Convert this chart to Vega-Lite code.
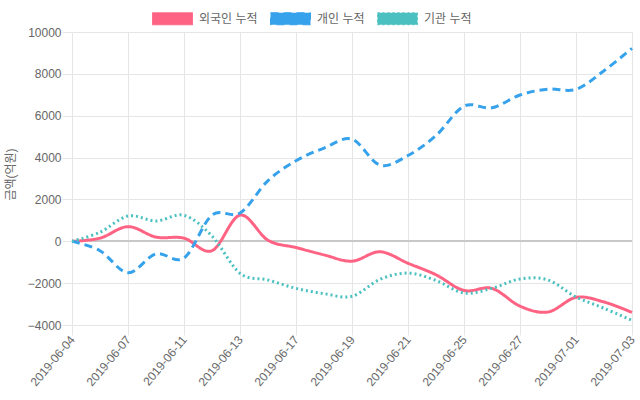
{
  "$schema": "https://vega.github.io/schema/vega-lite/v6.json",
  "width": 560,
  "height": 293,
  "autosize": {"type": "none"},
  "padding": {"left": 72, "top": 32, "right": 8, "bottom": 75},
  "config": {"view": {"stroke": null}, "font": "Liberation Sans, Noto Sans CJK KR"},
  "data": {"values": [
    {"date": "2019-06-04", "series": "외국인 누적", "value": 0},
    {"date": "2019-06-05", "series": "외국인 누적", "value": 150},
    {"date": "2019-06-07", "series": "외국인 누적", "value": 700},
    {"date": "2019-06-10", "series": "외국인 누적", "value": 200},
    {"date": "2019-06-11", "series": "외국인 누적", "value": 150},
    {"date": "2019-06-12", "series": "외국인 누적", "value": -450},
    {"date": "2019-06-13", "series": "외국인 누적", "value": 1250},
    {"date": "2019-06-14", "series": "외국인 누적", "value": 50},
    {"date": "2019-06-17", "series": "외국인 누적", "value": -300},
    {"date": "2019-06-18", "series": "외국인 누적", "value": -650},
    {"date": "2019-06-19", "series": "외국인 누적", "value": -950},
    {"date": "2019-06-20", "series": "외국인 누적", "value": -500},
    {"date": "2019-06-21", "series": "외국인 누적", "value": -1050},
    {"date": "2019-06-24", "series": "외국인 누적", "value": -1600},
    {"date": "2019-06-25", "series": "외국인 누적", "value": -2350},
    {"date": "2019-06-26", "series": "외국인 누적", "value": -2250},
    {"date": "2019-06-27", "series": "외국인 누적", "value": -3100},
    {"date": "2019-06-28", "series": "외국인 누적", "value": -3380},
    {"date": "2019-07-01", "series": "외국인 누적", "value": -2680},
    {"date": "2019-07-02", "series": "외국인 누적", "value": -2900},
    {"date": "2019-07-03", "series": "외국인 누적", "value": -3400},
    {"date": "2019-06-04", "series": "개인 누적", "value": 0},
    {"date": "2019-06-05", "series": "개인 누적", "value": -450},
    {"date": "2019-06-07", "series": "개인 누적", "value": -1500},
    {"date": "2019-06-10", "series": "개인 누적", "value": -600},
    {"date": "2019-06-11", "series": "개인 누적", "value": -800},
    {"date": "2019-06-12", "series": "개인 누적", "value": 1250},
    {"date": "2019-06-13", "series": "개인 누적", "value": 1350},
    {"date": "2019-06-14", "series": "개인 누적", "value": 2900},
    {"date": "2019-06-17", "series": "개인 누적", "value": 3850},
    {"date": "2019-06-18", "series": "개인 누적", "value": 4450},
    {"date": "2019-06-19", "series": "개인 누적", "value": 4880},
    {"date": "2019-06-20", "series": "개인 누적", "value": 3640},
    {"date": "2019-06-21", "series": "개인 누적", "value": 4100},
    {"date": "2019-06-24", "series": "개인 누적", "value": 5050},
    {"date": "2019-06-25", "series": "개인 누적", "value": 6460},
    {"date": "2019-06-26", "series": "개인 누적", "value": 6380},
    {"date": "2019-06-27", "series": "개인 누적", "value": 6990},
    {"date": "2019-06-28", "series": "개인 누적", "value": 7270},
    {"date": "2019-07-01", "series": "개인 누적", "value": 7260},
    {"date": "2019-07-02", "series": "개인 누적", "value": 8150},
    {"date": "2019-07-03", "series": "개인 누적", "value": 9220},
    {"date": "2019-06-04", "series": "기관 누적", "value": 0},
    {"date": "2019-06-05", "series": "기관 누적", "value": 430},
    {"date": "2019-06-07", "series": "기관 누적", "value": 1210},
    {"date": "2019-06-10", "series": "기관 누적", "value": 970},
    {"date": "2019-06-11", "series": "기관 누적", "value": 1240},
    {"date": "2019-06-12", "series": "기관 누적", "value": 250},
    {"date": "2019-06-13", "series": "기관 누적", "value": -1530},
    {"date": "2019-06-14", "series": "기관 누적", "value": -1850},
    {"date": "2019-06-17", "series": "기관 누적", "value": -2250},
    {"date": "2019-06-18", "series": "기관 누적", "value": -2500},
    {"date": "2019-06-19", "series": "기관 누적", "value": -2630},
    {"date": "2019-06-20", "series": "기관 누적", "value": -1820},
    {"date": "2019-06-21", "series": "기관 누적", "value": -1520},
    {"date": "2019-06-24", "series": "기관 누적", "value": -1870},
    {"date": "2019-06-25", "series": "기관 누적", "value": -2470},
    {"date": "2019-06-26", "series": "기관 누적", "value": -2250},
    {"date": "2019-06-27", "series": "기관 누적", "value": -1800},
    {"date": "2019-06-28", "series": "기관 누적", "value": -1850},
    {"date": "2019-07-01", "series": "기관 누적", "value": -2660},
    {"date": "2019-07-02", "series": "기관 누적", "value": -3200},
    {"date": "2019-07-03", "series": "기관 누적", "value": -3780}
  ]},
  "layer": [
    {
      "mark": {"type": "rule", "color": "#c8c8c8", "strokeWidth": 1},
      "encoding": {"y": {"datum": 0, "type": "quantitative"}}
    },
    {
      "mark": {"type": "line", "interpolate": "cardinal", "strokeWidth": 3},
      "encoding": {
        "x": {
          "field": "date", "type": "ordinal", "sort": null,
          "scale": {"type": "point", "padding": 0},
          "axis": {
            "values": ["2019-06-04","2019-06-07","2019-06-11","2019-06-13","2019-06-17","2019-06-19","2019-06-21","2019-06-25","2019-06-27","2019-07-01","2019-07-03"],
            "title": null, "grid": true, "gridColor": "#e6e6e6", "domain": false,
            "tickColor": "#e6e6e6", "tickSize": 10, "labelPadding": 2,
            "labelAngle": -50, "labelAlign": "right", "labelBaseline": "middle",
            "labelColor": "#666", "labelFontSize": 12, "labelOverlap": false, "labelBound": false
          }
        },
        "y": {
          "field": "value", "type": "quantitative",
          "scale": {"domain": [-4000, 10000], "nice": false, "zero": false},
          "axis": {
            "values": [-4000,-2000,0,2000,4000,6000,8000,10000], "format": "d",
            "title": "금액(억원)", "grid": true, "gridColor": "#e6e6e6", "domain": false,
            "tickColor": "#e6e6e6", "tickSize": 10, "labelPadding": 1,
            "labelColor": "#666", "labelFontSize": 12,
            "titleColor": "#666", "titleFontSize": 12, "titleFontWeight": "normal",
            "titleX": -62, "titleY": 142, "titleAngle": -90, "titleAlign": "center", "titleBaseline": "middle"
          }
        },
        "color": {
          "field": "series", "type": "nominal",
          "scale": {"domain": ["외국인 누적", "개인 누적", "기관 누적"], "range": ["#ff6384", "#36a2eb", "#4bc0c0"]},
          "legend": {
            "title": null, "orient": "none", "legendX": 80, "legendY": -34, "direction": "horizontal",
            "symbolType": "M-1,-0.3H1V0.3H-1Z", "symbolSize": 1600, "symbolStrokeWidth": 1,
            "labelFontSize": 12, "labelColor": "#666", "labelOffset": 6, "columnPadding": 10,
            "encode": {"symbols": {"update": {"fill": {"scale": "color", "field": "value"}, "fillOpacity": {"value": 1}}}}
          }
        },
        "strokeDash": {
          "field": "series", "type": "nominal",
          "scale": {"domain": ["외국인 누적", "개인 누적", "기관 누적"], "range": [[1, 0], [8, 5], [2, 3]]},
          "legend": null
        }
      }
    }
  ]
}
